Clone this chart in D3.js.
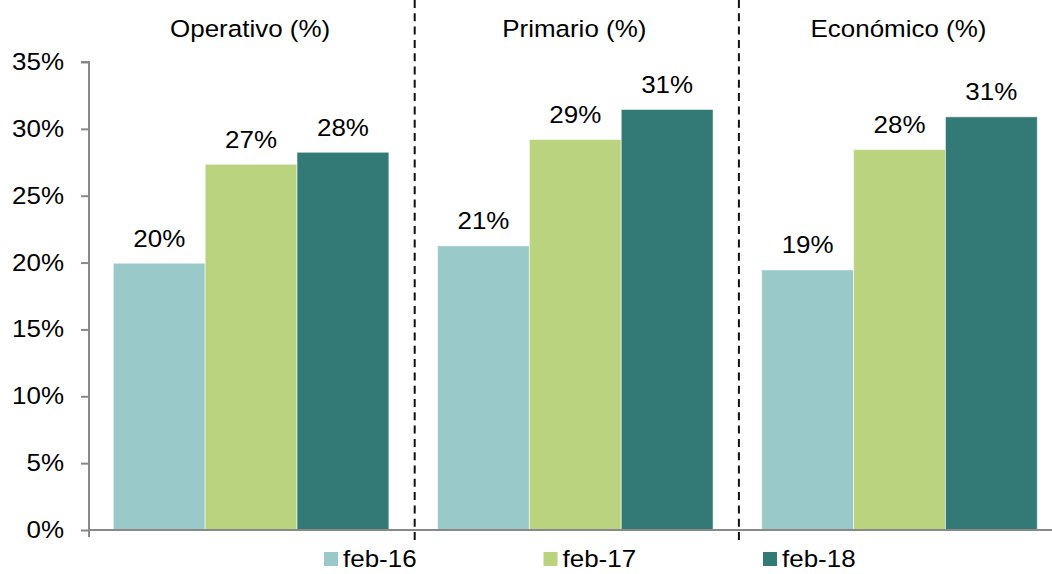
<!DOCTYPE html>
<html>
<head>
<meta charset="utf-8">
<script src="https://cdn.jsdelivr.net/npm/d3@7"></script>
<style>
  html, body { margin: 0; padding: 0; background: #fff; }
  svg { display: block; font-family: "Liberation Sans", Arial, sans-serif; }
</style>
</head>
<body>
<svg id="chart" width="1052" height="574"></svg>
<script>
const categories = ["Operativo (%)", "Primario (%)", "Económico (%)"];
const seriesNames = ["feb-16", "feb-17", "feb-18"];
const feb16 = [19.95, 21.25, 19.45];
const feb17 = [27.35, 29.2, 28.45];
const feb18 = [28.25, 31.45, 30.9];
const yTicks = [0, 5, 10, 15, 20, 25, 30, 35];
const colors = ["#99C9C9", "#BAD37E", "#337A77"];

const seriesValues = [feb16, feb17, feb18];
const svg = d3.select("#chart");

const FS = 23.3;     // vertical font size
const SX = 1.115;    // horizontal stretch of text in the reference

const plotLeft = 89, plotRight = 1061.6, plotTop = 62, plotBottom = 530;

const x0 = d3.scaleBand().domain(categories).range([plotLeft, plotRight]).padding(0);
const bw = x0.bandwidth();
const x1 = d3.scaleBand().domain(seriesNames).range([bw * 0.075, bw * 0.925]).padding(0);
const y = d3.scaleLinear().domain([0, 35]).range([plotBottom, plotTop]);

function stretch(sel, xFn) {
  sel.attr("x", (d, i, n) => (typeof xFn === "function" ? xFn(d, i, n) : xFn) / SX)
     .attr("transform", `scale(${SX},1)`)
     .attr("font-size", FS)
     .attr("fill", "#000");
}

// Bars
const groups = svg.append("g").selectAll("g")
  .data(categories)
  .join("g")
  .attr("transform", d => `translate(${x0(d)},0)`);

groups.selectAll("rect")
  .data((c, i) => seriesNames.map((s, j) => ({ s, j, v: seriesValues[j][i] })))
  .join("rect")
  .attr("x", d => x1(d.s))
  .attr("width", x1.bandwidth())
  .attr("y", d => y(d.v))
  .attr("height", d => y(0) - y(d.v))
  .attr("fill", d => colors[d.j])
  .attr("stroke", "rgba(255,255,255,0.55)")
  .attr("stroke-width", 1);

// Value labels
const vals = groups.selectAll("text.val")
  .data((c, i) => seriesNames.map((s, j) => ({ s, j, v: seriesValues[j][i] })))
  .join("text")
  .attr("class", "val")
  .attr("y", d => y(d.v) - 16.5)
  .attr("text-anchor", "middle")
  .text(d => Math.round(d.v) + "%");
stretch(vals, d => x1(d.s) + x1.bandwidth() / 2);

// Y axis
const yAxis = d3.axisLeft(y).tickValues(yTicks).tickSize(8).tickPadding(17)
  .tickFormat(d => d + "%");
const gy = svg.append("g").attr("transform", `translate(${plotLeft},0)`).call(yAxis);
gy.select(".domain").attr("stroke", "#898989").attr("stroke-width", 2).attr("d", `M-8,${plotTop}H0V${plotBottom + 7}`);
gy.selectAll(".tick line").attr("stroke", "#898989").attr("stroke-width", 2);
gy.selectAll(".tick text").attr("font-family", "Liberation Sans, Arial, sans-serif");
stretch(gy.selectAll(".tick text"), -25);

// Baseline
svg.append("line")
  .attr("x1", plotLeft).attr("x2", 1052)
  .attr("y1", y(0)).attr("y2", y(0))
  .attr("stroke", "#898989").attr("stroke-width", 2);

// Dashed separators
categories.slice(1).forEach(c => {
  svg.append("line")
    .attr("x1", x0(c) + 1.5).attr("x2", x0(c) + 1.5)
    .attr("y1", 0).attr("y2", 544)
    .attr("stroke", "#111").attr("stroke-width", 2)
    .attr("stroke-dasharray", "8,5.3");
});

// Category titles
const titles = svg.append("g").selectAll("text")
  .data(categories)
  .join("text")
  .attr("y", 37)
  .attr("text-anchor", "middle")
  .text(d => d);
stretch(titles, d => x0(d) + bw / 2 - 1);

// Legend
const legendX = d3.scalePoint().domain(seriesNames).range([324, 763]);
const lg = svg.append("g").selectAll("g")
  .data(seriesNames)
  .join("g")
  .attr("transform", d => `translate(${legendX(d)},552)`);
lg.append("rect").attr("width", 14).attr("height", 14)
  .attr("fill", (d, i) => colors[i]);
const lt = lg.append("text").attr("y", 15).text(d => d);
stretch(lt, 19);
</script>
</body>
</html>
